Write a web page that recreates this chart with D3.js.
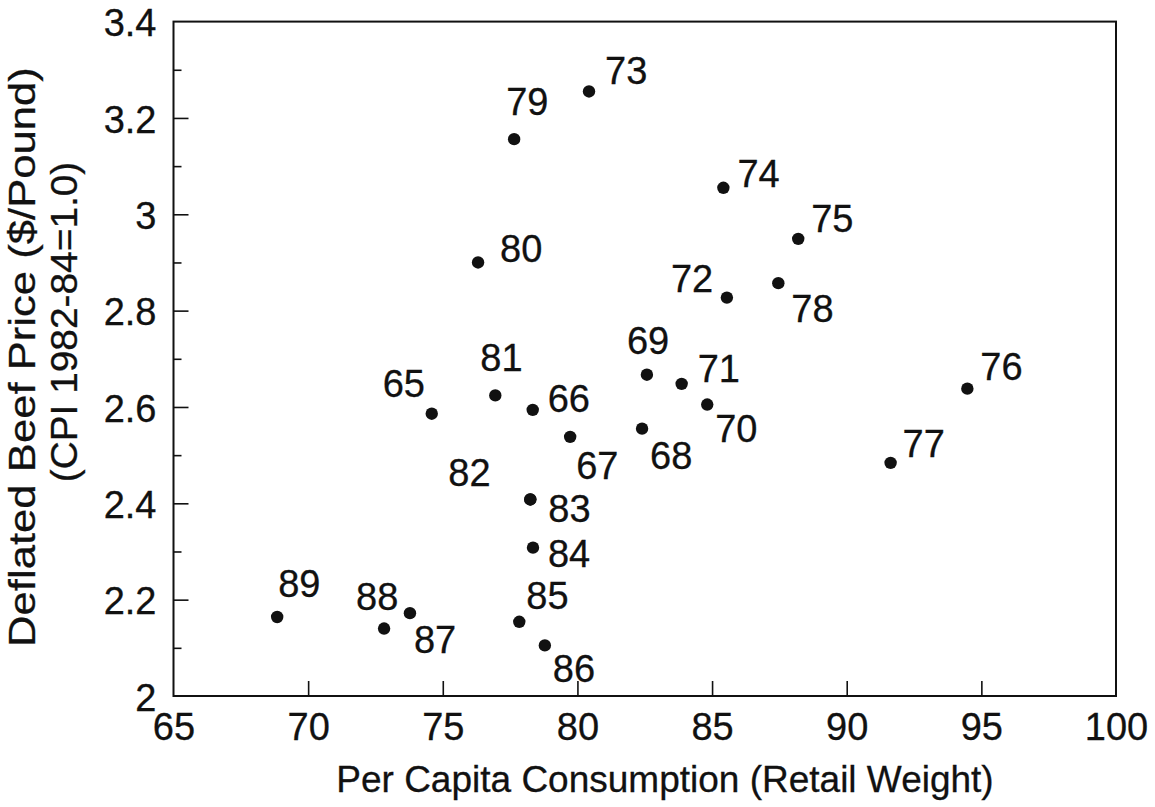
<!DOCTYPE html>
<html>
<head>
<meta charset="utf-8">
<script src="https://cdn.jsdelivr.net/npm/d3@7"></script>
<style>
  html, body { margin: 0; padding: 0; background: #fff; }
  svg { display: block; }
  text { font-family: "Liberation Sans", Arial, Helvetica, sans-serif; fill: #111; stroke: #111; stroke-width: 0.3px; }
</style>
</head>
<body>
<svg id="chart" width="1155" height="807"></svg>
<script>
// ---- Data ----
const years = ["65","66","67","68","69","70","71","72","73","74","75","76","77","78","79","80","81","82","83","84","85","86","87","88","89"];
const consumption = [74.59,78.34,79.73,82.40,82.58,84.82,83.87,85.55,80.43,85.42,88.20,94.48,91.63,87.46,77.65,76.31,76.95,78.25,78.25,78.35,77.84,78.79,73.78,72.82,68.85];
const price = [2.586,2.594,2.538,2.555,2.667,2.605,2.648,2.827,3.255,3.055,2.949,2.638,2.484,2.857,3.156,2.900,2.624,2.408,2.408,2.308,2.154,2.105,2.172,2.140,2.164];
const xTickValues = [65,70,75,80,85,90,95,100];
const yTickValues = [2,2.2,2.4,2.6,2.8,3,3.2,3.4];
const yMinorTickValues = [2.1,2.3,2.5,2.7,2.9,3.1,3.3];
const xTitle = "Per Capita Consumption (Retail Weight)";
const yTitleLines = ["Deflated Beef Price ($/Pound)", "(CPI 1982-84=1.0)"];

// ---- Layout (label placement relative to each point, in px) ----
const labelDx = [-47,17,8,10,-18,10,18,-54,18,16,15,15,14,15,-6,24,-13,-80,20,17,9,10,6,-26,3];
const labelDy = [-17,2,42,40,-21,37,-2,-6,-7,-1,-7,-9,-6,39,-24,0,-24,-13,23,19,-13,37,40,-19,-20];

const svg = d3.select("#chart");
const pLeft = 173.5, pRight = 1116, pTop = 21.6, pBottom = 696;
const fs = 38;

const x = d3.scaleLinear().domain([65,100]).range([pLeft,pRight]);
const y = d3.scaleLinear().domain([2,3.4]).range([pBottom,pTop]);

// Frame
svg.append("rect")
  .attr("x", pLeft).attr("y", pTop)
  .attr("width", pRight-pLeft).attr("height", pBottom-pTop)
  .attr("fill", "none").attr("stroke", "#111").attr("stroke-width", 2);

// X axis: inward ticks, labels below
const xAxis = d3.axisBottom(x).tickValues(xTickValues).tickSize(-15).tickPadding(17).tickFormat(d3.format("d"));
const gx = svg.append("g").attr("transform", `translate(0,${pBottom})`).call(xAxis);
gx.select(".domain").remove();
gx.selectAll(".tick line").attr("stroke", "#111").attr("stroke-width", 1.6)
  .filter(d => d === 65 || d === 100).remove();
gx.selectAll(".tick text").attr("font-size", fs).attr("fill", "#111")
  .attr("font-family", "Liberation Sans, Arial, sans-serif").attr("dy", "0.71em");

// Y axis: inward ticks, labels left
const yAxis = d3.axisLeft(y).tickValues(yTickValues).tickSize(-15).tickPadding(17).tickFormat(d => String(+d.toFixed(1)));
const gy = svg.append("g").attr("transform", `translate(${pLeft},0)`).call(yAxis);
gy.select(".domain").remove();
gy.selectAll(".tick line").attr("stroke", "#111").attr("stroke-width", 1.6)
  .filter(d => d === 2 || d === 3.4).remove();
gy.selectAll(".tick text").attr("font-size", fs).attr("fill", "#111")
  .attr("font-family", "Liberation Sans, Arial, sans-serif").attr("dy", "0.37em");

// Y minor ticks
const yMinor = d3.axisLeft(y).tickValues(yMinorTickValues).tickSize(-8).tickFormat("");
const gym = svg.append("g").attr("transform", `translate(${pLeft},0)`).call(yMinor);
gym.select(".domain").remove();
gym.selectAll(".tick line").attr("stroke", "#111").attr("stroke-width", 1.6);

// Points
const pts = years.map((yr, i) => ({ yr, cx: consumption[i], p: price[i], dx: labelDx[i], dy: labelDy[i] }));
svg.append("g").selectAll("circle").data(pts).join("circle")
  .attr("cx", d => x(d.cx)).attr("cy", d => y(d.p)).attr("r", 6.2).attr("fill", "#111");

svg.append("g").selectAll("text").data(pts).join("text")
  .attr("x", d => x(d.cx) + d.dx - 2).attr("y", d => y(d.p) + d.dy)
  .attr("font-size", fs).text(d => d.yr);

// Axis titles
svg.append("text").attr("x", 665).attr("y", 792).attr("text-anchor", "middle")
  .attr("font-size", 37).text(xTitle);

const yt = svg.append("g");
yt.append("text").attr("transform", "translate(34.5,357) rotate(-90) scale(1.18,1)")
  .attr("text-anchor", "middle").attr("font-size", 37).text(yTitleLines[0]);
yt.append("text").attr("transform", "translate(77,322) rotate(-90) scale(1.05,1)")
  .attr("text-anchor", "middle").attr("font-size", 37).text(yTitleLines[1]);
</script>
</body>
</html>
